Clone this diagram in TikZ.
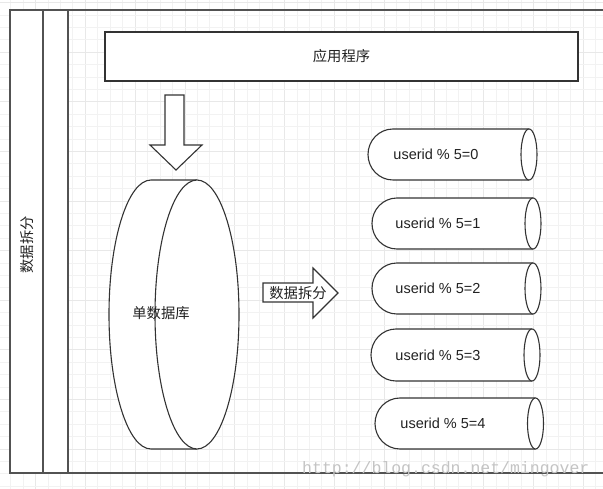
\documentclass[tikz,border=0pt]{standalone}
\usepackage{fontspec}
\setmainfont{Liberation Sans}
\newfontfamily\cjk{Noto Sans CJK SC}
\newfontfamily\wmfont{Liberation Mono}
\definecolor{ln}{HTML}{333333}
\definecolor{txt}{HTML}{222222}
\definecolor{gridminor}{HTML}{F2F2F2}
\definecolor{gridmajor}{HTML}{E8E8E8}
\definecolor{wmark}{HTML}{C4C4C4}
\begin{document}
\begin{tikzpicture}[x=1pt,y=-1pt,
  shapeline/.style={draw=ln,line width=1.1pt,fill=white},
  frameline/.style={draw=ln!85,line width=1.3pt},
  lbl/.style={text=txt,inner sep=0pt,font=\cjk\fontsize{14.3}{16}\selectfont},
  ulbl/.style={text=txt,inner sep=0pt,font=\fontsize{14.5}{17}\selectfont}]
\useasboundingbox (0,0) rectangle (603,489);
\fill[white] (0,0) rectangle (603,489);
% grid
\foreach \k in {-31,...,18}{
  \pgfmathtruncatemacro{\m}{mod(\k+40,4)}
  \ifnum\m=0 \draw[gridmajor,line width=0.6pt] ({384+12.45*\k},0) -- ({384+12.45*\k},489);
  \else \draw[gridminor,line width=0.6pt] ({384+12.45*\k},0) -- ({384+12.45*\k},489); \fi
}
\foreach \k in {-8,...,31}{
  \pgfmathtruncatemacro{\m}{mod(\k+40,4)}
  \ifnum\m=0 \draw[gridmajor,line width=0.6pt] (0,{101.7+12.4*\k}) -- (603,{101.7+12.4*\k});
  \else \draw[gridminor,line width=0.6pt] (0,{101.7+12.4*\k}) -- (603,{101.7+12.4*\k}); \fi
}
% swimlane frame
\fill[white] (10,10) rectangle (68,473);
\draw[frameline] (603,10) -- (10,10) -- (10,473) -- (603,473);
\draw[frameline] (43,10) -- (43,473);
\draw[frameline] (68,10) -- (68,473);
\node[lbl,rotate=90] (lane) at (27,245) {数据拆分};
% application box
\node[shapeline,minimum width=473pt,minimum height=49pt,lbl] (app) at (341.5,56.5) {应用程序};
% down arrow
\path[shapeline] (165,95) -- (184,95) -- (184,145) -- (202,145) -- (176,170) -- (150,145) -- (165,145) -- cycle;
% big cylinder
\path[shapeline] (197,180) -- (151,180) arc[start angle=270,end angle=90,x radius=42,y radius=134.5] -- (197,449);
\path[shapeline] (197,314.5) ellipse[x radius=42,y radius=134.5];
\node[lbl] (db) at (161,313) {单数据库};
% right arrow
\path[shapeline] (263,283) -- (313,283) -- (313,268) -- (338,293) -- (313,318) -- (313,302) -- (263,302) -- cycle;
\node[lbl] (split) at (298,293) {数据拆分};
% small cylinders
\foreach \L/\T/\B/\R/\tx/\i in {368/129/180/529/436/0, 372/198/249/533/438/1, 372/263/314/533/438/2, 371/329/381/532/438/3, 375/398/449/535.5/443/4}{
  \pgfmathsetmacro{\cy}{(\T+\B)/2}
  \pgfmathsetmacro{\ry}{(\B-\T)/2}
  \path[shapeline] (\R,\T) -- ({\L+25},\T) arc[start angle=270,end angle=90,x radius=25,y radius=\ry] -- (\R,\B);
  \path[shapeline] (\R,\cy) ellipse[x radius=8,y radius=\ry];
  \node[ulbl] (c\i) at (\tx,\cy) {userid \% 5=\i};
}
% watermark
\node[anchor=base west,inner sep=0pt,text=wmark,font=\wmfont\fontsize{16.5}{18}\selectfont] (wm) at (302,473) {http://blog.csdn.net/mingover};
\end{tikzpicture}
\end{document}
